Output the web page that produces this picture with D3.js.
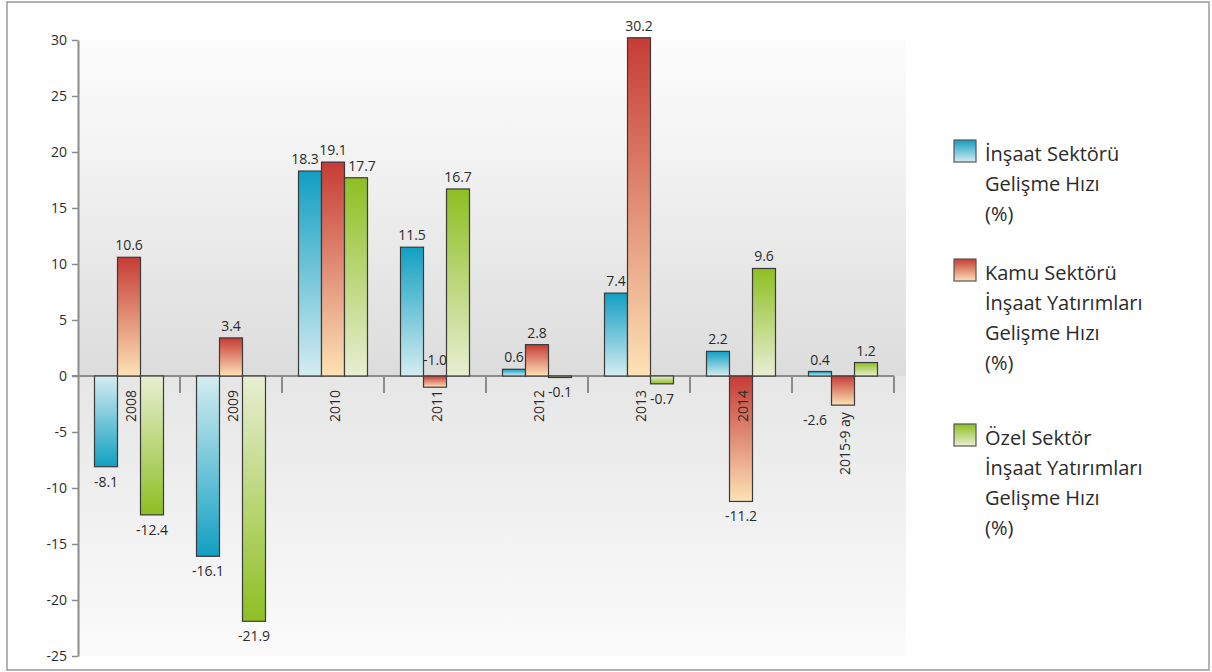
<!DOCTYPE html>
<html>
<head>
<meta charset="utf-8">
<script src="https://cdn.jsdelivr.net/npm/d3@7"></script>
<style>
  html, body { margin: 0; padding: 0; background: #ffffff; }
  svg { display: block; }
</style>
</head>
<body>
<svg id="chart" width="1212" height="672"></svg>
<script>
// ---- data ----
const categories = ["2008", "2009", "2010", "2011", "2012", "2013", "2014", "2015-9 ay"];
const insaatGelisme = [-8.1, -16.1, 18.3, 11.5, 0.6, 7.4, 2.2, 0.4];
const kamuYatirim   = [10.6, 3.4, 19.1, -1.0, 2.8, 30.2, -11.2, -2.6];
const ozelYatirim   = [-12.4, -21.9, 17.7, 16.7, -0.1, -0.7, 9.6, 1.2];
const seriesNames = [
  ["İnşaat Sektörü", "Gelişme Hızı", "(%)"],
  ["Kamu Sektörü", "İnşaat Yatırımları", "Gelişme Hızı", "(%)"],
  ["Özel Sektör", "İnşaat Yatırımları", "Gelişme Hızı", "(%)"]
];
const yTicks = [30, 25, 20, 15, 10, 5, 0, -5, -10, -15, -20, -25];

const seriesValues = [insaatGelisme, kamuYatirim, ozelYatirim];
const palette = [
  { dark: "#129fc2", light: "#d4ecf1" },
  { dark: "#c63b35", light: "#fde2b6" },
  { dark: "#8ebf22", light: "#e8eed3" }
];

const svg = d3.select("#chart");
const FONT = "'Open Sans', 'Noto Sans', sans-serif";
const TXT = "#2b2b2b";
const SMALL = 14;

const pL = 78, pR = 894, pT = 40, pB = 656;
const x = d3.scaleBand().domain(categories).range([pL, pR]).paddingInner(0).paddingOuter(0);
const x1 = d3.scaleBand().domain([0, 1, 2]).range([16.5, x.bandwidth() - 16.5]).padding(0);
const y = d3.scaleLinear().domain([-25, 30]).range([pB, pT]);
const y0 = y(0);

const hy = s => s.replace(/\u2212/g, "-");
const fmt1 = v => hy(d3.format(".1f")(v));
const fmt0 = v => hy(d3.format("d")(v));

// ---- gradients ----
const defs = svg.append("defs");
function lin(id, stops) {
  const g = defs.append("linearGradient").attr("id", id)
    .attr("x1", 0).attr("y1", 0).attr("x2", 0).attr("y2", 1);
  stops.forEach(s => g.append("stop").attr("offset", s[0]).attr("stop-color", s[1]));
}
palette.forEach((p, i) => {
  lin("gDown" + i, [[0, p.dark], [1, p.light]]); // dark at top
  lin("gUp" + i, [[0, p.light], [1, p.dark]]);   // dark at bottom
});
lin("bgTop", [[0, "#fcfcfc"], [0.3, "#f4f4f4"], [1, "#dcdcdc"]]);
lin("bgBot", [[0, "#e6e6e6"], [1, "#fbfbfb"]]);

// ---- frame ----
svg.append("rect").attr("x", 7).attr("y", 2).attr("width", 1202).attr("height", 668)
  .attr("fill", "#ffffff").attr("stroke", "#9a9a9a").attr("stroke-width", 1.5);

// ---- plot background ----
svg.append("rect").attr("x", pL).attr("y", pT).attr("width", 828).attr("height", y0 - pT)
  .attr("fill", "url(#bgTop)");
svg.append("rect").attr("x", pL).attr("y", y0).attr("width", 828).attr("height", pB - y0)
  .attr("fill", "url(#bgBot)");

// ---- y axis ----
const yAxis = svg.append("g").attr("transform", `translate(${pL},0)`)
  .call(d3.axisLeft(y).tickValues(yTicks).tickSize(6).tickSizeOuter(0).tickFormat(fmt0));
yAxis.select(".domain").attr("stroke", "#8c8c8c").attr("stroke-width", 2);
yAxis.selectAll(".tick line").attr("stroke", "#8c8c8c").attr("stroke-width", 1.5);
yAxis.selectAll(".tick text").attr("fill", TXT).attr("font-family", FONT).attr("font-size", SMALL)
  .attr("x", -11);

// ---- x axis (zero line + separators) ----
svg.append("line").attr("x1", pL - 6).attr("x2", pR).attr("y1", y0).attr("y2", y0)
  .attr("stroke", "#8c8c8c").attr("stroke-width", 2);
const seps = categories.slice(1).map(c => x(c)).concat([pR]);
svg.selectAll("line.sep").data(seps).enter().append("line").attr("class", "sep")
  .attr("x1", d => d).attr("x2", d => d).attr("y1", y0).attr("y2", y0 + 17)
  .attr("stroke", "#8c8c8c").attr("stroke-width", 2);

// ---- bars ----
const barData = [];
categories.forEach((c, ci) => {
  seriesValues.forEach((vals, si) => {
    barData.push({ c, ci, si, v: vals[ci] });
  });
});
const bw = x1.bandwidth();
svg.append("g").selectAll("rect").data(barData).enter().append("rect")
  .attr("x", d => x(d.c) + x1(d.si))
  .attr("y", d => Math.min(y(d.v), y0))
  .attr("width", bw)
  .attr("height", d => Math.max(1.5, Math.abs(y(d.v) - y0)))
  .attr("fill", d => {
    if (d.si === 1) return `url(#gDown${d.si})`;
    return d.v >= 0 ? `url(#gDown${d.si})` : `url(#gUp${d.si})`;
  })
  .attr("stroke", "#3a3a3a").attr("stroke-width", 1.2);

// ---- category labels ----
const catTop = categories.map((c, ci) => {
  const mv = kamuYatirim[ci];
  if (mv < -2 && mv > -5) return y(mv) + 7;
  return y0 + 14;
});
svg.selectAll("text.cat").data(categories).enter().append("text").attr("class", "cat")
  .attr("transform", (d, i) => `translate(${x(d) + x.bandwidth() / 2 + 1},${catTop[i]}) rotate(-90)`)
  .attr("text-anchor", "end").attr("dominant-baseline", "central")
  .attr("font-family", FONT).attr("font-size", SMALL).attr("fill", TXT)
  .text(d => d);

// ---- value labels ----
svg.append("g").selectAll("text").data(barData).enter().append("text")
  .attr("x", d => {
    let cx = x(d.c) + x1(d.si) + bw / 2;
    if (d.si === 1 && d.v < -2 && d.v > -5) cx -= 28;
    if (d.ci === 2 && d.si === 0) cx -= 5;
    if (d.ci === 2 && d.si === 2) cx += 6;
    return cx;
  })
  .attr("y", d => {
    if (d.v >= 0) return y(d.v) - 7;
    if (d.si === 1 && d.v > -2) return y0 - 11;
    return y(d.v) + 20;
  })
  .attr("text-anchor", "middle")
  .attr("font-family", FONT).attr("font-size", SMALL).attr("fill", TXT)
  .text(d => fmt1(d.v));

// ---- legend ----
const legendY = [153, 272, 437];
const lg = svg.append("g");
seriesNames.forEach((lines, i) => {
  const g = lg.append("g").attr("transform", `translate(0,${legendY[i]})`);
  g.append("rect").attr("x", 954).attr("y", -13).attr("width", 22).attr("height", 22)
    .attr("fill", `url(#gDown${i})`).attr("stroke", "#555").attr("stroke-width", 1.2);
  lines.forEach((t, li) => {
    g.append("text").attr("x", 985).attr("y", li * 30.3).attr("dominant-baseline", "central")
      .attr("font-family", FONT).attr("font-size", 20).attr("fill", TXT).text(t);
  });
});
</script>
</body>
</html>
